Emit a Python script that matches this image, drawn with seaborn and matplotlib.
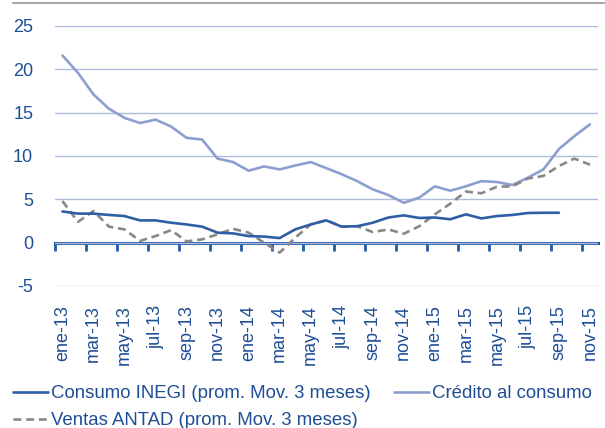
import numpy as np
import pandas as pd
import matplotlib
matplotlib.use("Agg")
import matplotlib.pyplot as plt
import seaborn as sns
from matplotlib.lines import Line2D

meses = ["ene-13", "feb-13", "mar-13", "abr-13", "may-13", "jun-13", "jul-13", "ago-13", "sep-13", "oct-13", "nov-13", "dic-13",
         "ene-14", "feb-14", "mar-14", "abr-14", "may-14", "jun-14", "jul-14", "ago-14", "sep-14", "oct-14", "nov-14", "dic-14",
         "ene-15", "feb-15", "mar-15", "abr-15", "may-15", "jun-15", "jul-15", "ago-15", "sep-15", "oct-15", "nov-15"]

consumo_inegi = [3.6, 3.35, 3.35, 3.2, 3.07, 2.57, 2.57, 2.3, 2.1, 1.85, 1.15, 1.07,
                 0.76, 0.7, 0.53, 1.53, 2.1, 2.57, 1.85, 1.9, 2.3, 2.9, 3.15, 2.85,
                 2.9, 2.7, 3.27, 2.8, 3.07, 3.2, 3.42, 3.45, 3.45, np.nan, np.nan]

credito_consumo = [21.6, 19.6, 17.1, 15.45, 14.4, 13.8, 14.2, 13.4, 12.1, 11.9, 9.7, 9.3,
                   8.3, 8.8, 8.45, 8.9, 9.3, 8.6, 7.9, 7.1, 6.15, 5.5, 4.6, 5.2,
                   6.5, 6.0, 6.5, 7.1, 7.0, 6.65, 7.5, 8.45, 10.8, 12.3, 13.65]

ventas_antad = [4.8, 2.4, 3.65, 1.85, 1.53, 0.2, 0.76, 1.45, 0.15, 0.38, 0.96, 1.6,
                1.15, 0.0, -1.15, 0.57, 2.1, 2.6, 1.85, 1.9, 1.22, 1.53, 1.03, 1.9,
                3.27, 4.5, 5.9, 5.7, 6.45, 6.5, 7.4, 7.7, 8.85, 9.7, 9.0]

y_ticks = [-5, 0, 5, 10, 15, 20, 25]

lbl_consumo = "Consumo INEGI (prom. Mov. 3 meses)"
lbl_credito = "Crédito al consumo"
lbl_ventas = "Ventas ANTAD (prom. Mov. 3 meses)"

sns.set_style("white")
plt.rcParams['font.family'] = ['Liberation Sans', 'DejaVu Sans']

text_col = "#1F4E96"
c_consumo = "#2E5EA3"
c_credito = "#8D9FD0"
c_ventas = "#888888"
grid_col = "#AEBBDD"
axis_col = "#1F5AA6"

W, H = 605, 428
fig = plt.figure(figsize=(W / 100, H / 100), dpi=100)
ax = fig.add_axes([54.7 / W, 1 - 286 / H, (597.7 - 54.7) / W, (286 - 26) / H])

df = pd.DataFrame({"i": np.arange(len(meses)),
                   "consumo": consumo_inegi,
                   "credito": credito_consumo,
                   "ventas": ventas_antad})

sns.lineplot(data=df, x="i", y="credito", ax=ax, color=c_credito, linewidth=1.9, zorder=3)
sns.lineplot(data=df, x="i", y="ventas", ax=ax, color=c_ventas, linewidth=1.9,
             linestyle=(0, (3, 1.8)), zorder=4)
sns.lineplot(data=df, x="i", y="consumo", ax=ax, color=c_consumo, linewidth=1.9, zorder=5)

ax.set_xlim(-0.5, len(meses) - 0.5)
ax.set_ylim(-5, 25)
ax.set_yticks(y_ticks)
ax.set_yticklabels([str(v) for v in y_ticks])
ax.yaxis.grid(True, color=grid_col, linewidth=1.0)
ax.set_axisbelow(True)
for s in ax.spines.values():
    s.set_visible(False)

idx = np.arange(0, len(meses), 2)
ax.set_xticks(idx)
ax.set_xticklabels([meses[k] for k in idx], rotation=90)
ax.tick_params(axis="x", length=0, pad=13.5, labelsize=13, labelcolor=text_col)
ax.tick_params(axis="y", length=0, pad=15.5, labelsize=13, labelcolor=text_col)
ax.set_xlabel("")
ax.set_ylabel("")

# zero axis line with tick marks between categories
sec = ax.secondary_xaxis(5 / 30)
sec.set_xticks(np.arange(-0.5, len(meses) - 1, 2))
sec.tick_params(axis="x", direction="out", length=6, width=2, color=axis_col, labelbottom=False)
sec.spines["bottom"].set_color(axis_col)
sec.spines["bottom"].set_linewidth(2.2)
sec.spines["bottom"].set_zorder(6)

# frame top line
fig.add_artist(Line2D([13 / W, 1.0], [1 - 3 / H, 1 - 3 / H], color="#A8A8A8", linewidth=1.5))

h_consumo = Line2D([], [], color=c_consumo, linewidth=1.9)
h_credito = Line2D([], [], color=c_credito, linewidth=1.9)
h_ventas = Line2D([], [], color=c_ventas, linewidth=1.9, linestyle=(0, (3, 1.8)))
leg = fig.legend([h_consumo, h_ventas, h_credito], [lbl_consumo, lbl_ventas, lbl_credito],
                 ncol=2, loc="upper left", bbox_to_anchor=(13 / W, 1 - 385 / H),
                 frameon=False, fontsize=13.4, handlelength=1.88, handletextpad=0.16,
                 columnspacing=1.24, labelspacing=0.55, borderpad=0, borderaxespad=0)
for t in leg.get_texts():
    t.set_color(text_col)

fig.savefig("out.png", dpi=100)
